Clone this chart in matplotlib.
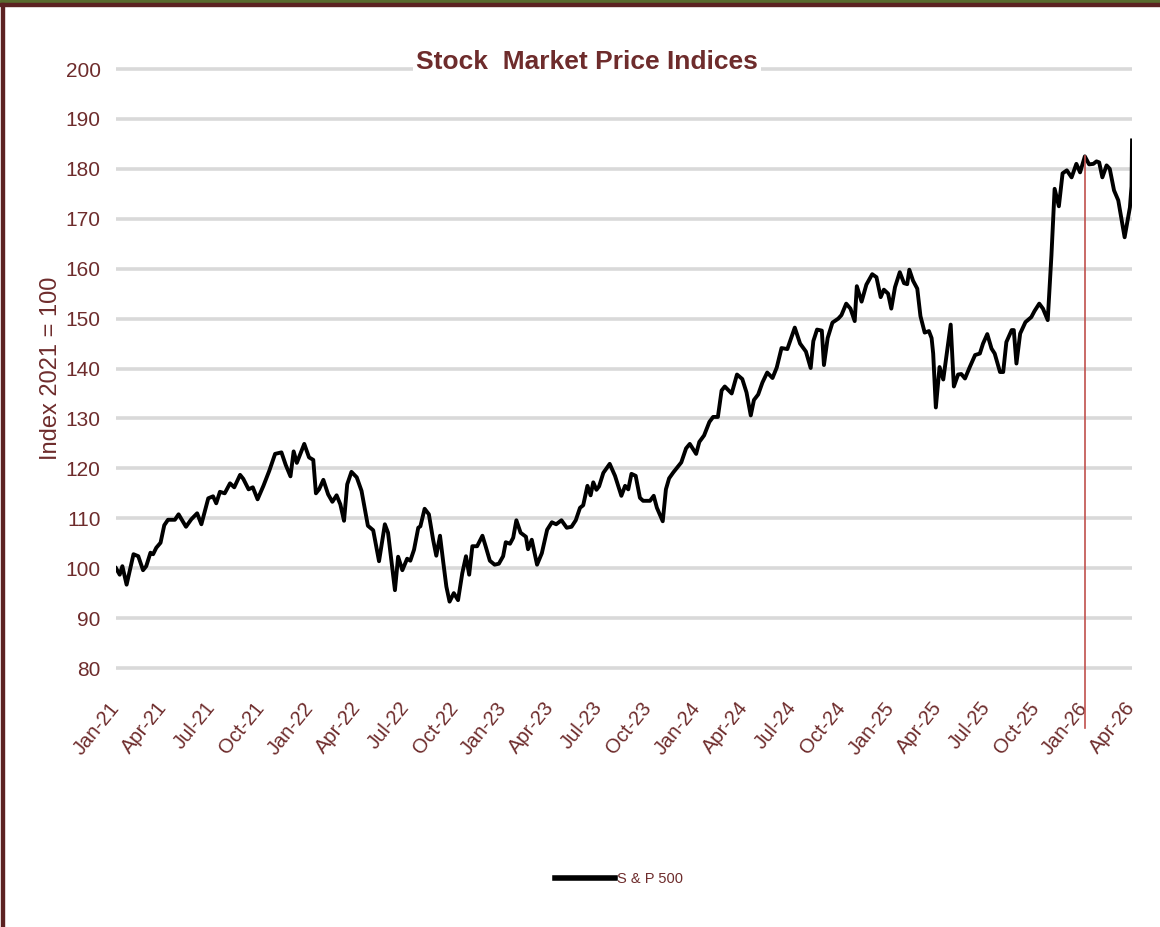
import matplotlib
matplotlib.use("Agg")
import matplotlib.pyplot as plt
import matplotlib.dates as mdates
import pandas as pd
from matplotlib.patches import Rectangle

# S&P 500, index 2021 = 100
sp_dates = [
    "2021-01-01", "2021-01-08", "2021-01-13", "2021-01-21", "2021-02-03", "2021-02-12",
    "2021-02-21", "2021-02-27", "2021-03-07", "2021-03-12", "2021-03-18", "2021-03-26",
    "2021-04-02", "2021-04-09", "2021-04-22", "2021-04-29", "2021-05-13", "2021-05-23",
    "2021-06-03", "2021-06-11", "2021-06-24", "2021-07-03", "2021-07-09", "2021-07-16",
    "2021-07-25", "2021-08-04", "2021-08-12", "2021-08-23", "2021-08-29", "2021-09-08",
    "2021-09-16", "2021-09-25", "2021-10-06", "2021-10-17", "2021-10-28", "2021-11-09",
    "2021-11-17", "2021-11-26", "2021-12-02", "2021-12-08", "2021-12-22", "2021-12-31",
    "2022-01-08", "2022-01-13", "2022-01-19", "2022-01-27", "2022-02-05", "2022-02-13",
    "2022-02-21", "2022-02-28", "2022-03-07", "2022-03-13", "2022-03-21", "2022-03-31",
    "2022-04-09", "2022-04-21", "2022-05-01", "2022-05-12", "2022-05-23", "2022-05-29",
    "2022-06-11", "2022-06-17", "2022-06-25", "2022-07-04", "2022-07-10", "2022-07-17",
    "2022-07-25", "2022-07-29", "2022-08-06", "2022-08-14", "2022-08-22", "2022-08-28",
    "2022-09-04", "2022-09-10", "2022-09-16", "2022-09-22", "2022-09-30", "2022-10-08",
    "2022-10-16", "2022-10-23", "2022-10-29", "2022-11-04", "2022-11-13", "2022-11-23",
    "2022-11-29", "2022-12-07", "2022-12-16", "2022-12-24", "2023-01-01", "2023-01-06",
    "2023-01-14", "2023-01-20", "2023-01-26", "2023-02-03", "2023-02-13", "2023-02-17",
    "2023-02-24", "2023-03-06", "2023-03-15", "2023-03-25", "2023-04-03", "2023-04-11",
    "2023-04-21", "2023-05-01", "2023-05-10", "2023-05-18", "2023-05-26", "2023-06-01",
    "2023-06-09", "2023-06-15", "2023-06-20", "2023-06-26", "2023-07-01", "2023-07-09",
    "2023-07-21", "2023-07-31", "2023-08-12", "2023-08-19", "2023-08-25", "2023-08-31",
    "2023-09-08", "2023-09-16", "2023-09-22", "2023-10-05", "2023-10-12", "2023-10-18",
    "2023-10-29", "2023-11-04", "2023-11-10", "2023-11-18", "2023-11-27", "2023-12-03",
    "2023-12-12", "2023-12-19", "2023-12-31", "2024-01-06", "2024-01-15", "2024-01-25",
    "2024-02-01", "2024-02-10", "2024-02-17", "2024-02-23", "2024-03-07", "2024-03-17",
    "2024-03-27", "2024-04-04", "2024-04-12", "2024-04-18", "2024-04-26", "2024-05-04",
    "2024-05-13", "2024-05-23", "2024-05-31", "2024-06-09", "2024-06-20", "2024-07-04",
    "2024-07-14", "2024-07-25", "2024-08-03", "2024-08-08", "2024-08-15", "2024-08-24",
    "2024-08-28", "2024-09-04", "2024-09-13", "2024-09-24", "2024-09-30", "2024-10-09",
    "2024-10-17", "2024-10-25", "2024-10-29", "2024-11-07", "2024-11-16", "2024-11-27",
    "2024-12-05", "2024-12-13", "2024-12-19", "2024-12-27", "2025-01-02", "2025-01-09",
    "2025-01-18", "2025-01-26", "2025-02-01", "2025-02-05", "2025-02-12", "2025-02-20",
    "2025-02-26", "2025-03-06", "2025-03-14", "2025-03-19", "2025-03-22", "2025-03-27",
    "2025-04-03", "2025-04-10", "2025-04-24", "2025-04-30", "2025-05-08", "2025-05-14",
    "2025-05-21", "2025-05-30", "2025-06-09", "2025-06-18", "2025-06-24", "2025-07-02",
    "2025-07-10", "2025-07-16", "2025-07-26", "2025-08-01", "2025-08-07", "2025-08-17",
    "2025-08-21", "2025-08-26", "2025-09-02", "2025-09-12", "2025-09-23", "2025-09-29",
    "2025-10-08", "2025-10-15", "2025-10-24", "2025-10-31", "2025-11-06", "2025-11-14",
    "2025-11-21", "2025-11-29", "2025-12-08", "2025-12-17", "2025-12-24", "2026-01-02",
    "2026-01-10", "2026-01-18", "2026-01-24", "2026-01-29", "2026-02-04", "2026-02-12",
    "2026-02-18", "2026-02-26", "2026-03-06", "2026-03-18", "2026-03-28", "2026-03-31",
    "2026-04-01",
]
sp_values = [
    100.0, 98.7, 100.4, 96.7, 102.8, 102.4, 99.6, 100.4, 103.1, 102.8, 104.1, 105.1,
    108.6, 109.7, 109.7, 110.8, 108.3, 109.8, 111.0, 108.8, 114.0, 114.4, 113.0, 115.3,
    115.0, 117.0, 116.2, 118.7, 117.9, 115.8, 116.2, 113.8, 116.5, 119.5, 122.9, 123.2,
    120.7, 118.4, 123.4, 121.1, 124.9, 122.2, 121.7, 115.0, 115.8, 117.7, 114.8, 113.3,
    114.6, 112.8, 109.5, 116.8, 119.3, 118.2, 115.5, 108.5, 107.6, 101.4, 108.8, 107.1,
    95.6, 102.3, 99.6, 101.9, 101.5, 103.7, 108.1, 108.4, 111.9, 110.8, 105.7, 102.5,
    106.5, 101.3, 96.3, 93.3, 95.0, 93.6, 99.0, 102.4, 98.7, 104.4, 104.4, 106.5,
    104.4, 101.5, 100.7, 100.9, 102.4, 105.2, 104.9, 106.1, 109.6, 107.1, 106.3, 103.8,
    105.7, 100.7, 103.0, 107.7, 109.2, 108.8, 109.6, 108.1, 108.3, 109.6, 112.1, 112.6,
    116.5, 114.6, 117.2, 115.7, 116.4, 119.1, 120.9, 118.5, 114.5, 116.5, 115.8, 118.9,
    118.5, 114.1, 113.5, 113.5, 114.5, 112.1, 109.4, 115.8, 118.0, 119.2, 120.4, 121.2,
    124.0, 124.9, 122.9, 125.3, 126.6, 129.3, 130.3, 130.3, 135.6, 136.4, 135.0, 138.8,
    137.9, 135.2, 130.6, 133.7, 134.8, 137.2, 139.2, 138.1, 140.2, 144.1, 143.9, 148.2,
    145.0, 143.4, 140.1, 145.5, 147.8, 147.6, 140.7, 146.1, 149.2, 150.0, 150.7, 153.0,
    152.0, 149.5, 156.5, 153.4, 156.8, 158.9, 158.3, 154.3, 155.8, 155.0, 152.0, 156.3,
    159.3, 157.1, 156.9, 159.8, 157.6, 156.0, 150.5, 147.2, 147.5, 146.1, 143.0, 132.2,
    140.3, 137.8, 148.8, 136.4, 138.8, 138.9, 138.0, 140.3, 142.7, 143.0, 145.0, 146.9,
    144.0, 143.0, 139.3, 139.3, 145.3, 147.7, 147.7, 141.0, 147.0, 149.3, 150.3, 151.5,
    153.0, 152.0, 149.7, 162.7, 176.0, 172.5, 179.1, 179.7, 178.3, 181.0, 179.3, 182.5,
    180.9, 181.0, 181.5, 181.3, 178.3, 180.7, 180.0, 175.7, 173.7, 166.3, 172.3, 176.5,
    185.7,
]
series_name = "S & P 500"
marker_date = "2026-01-02"
marker_top = 182.5

TEXT = "#6E2C2C"
BROWN = "#5C2222"
GREEN = "#586B2E"
FONT = ["Liberation Sans", "DejaVu Sans"]

fig = plt.figure(figsize=(11.6, 9.27), dpi=100)
ax = fig.add_axes([0.1, 0.2686, 0.8759, 0.6677])

dates = pd.to_datetime(sp_dates)
ax.plot(dates, sp_values, color="black", lw=2.8, solid_joinstyle="round",
        label=series_name, zorder=3)

# vertical marker at the start of the latest year
md = pd.Timestamp(marker_date)
ax.plot([md, md], [68, marker_top], color="#C0504D", lw=1.2, clip_on=False, zorder=4)

ax.set_xlim(pd.Timestamp("2021-01-01"), pd.Timestamp("2026-04-01"))
ax.set_ylim(78, 202)
ax.set_yticks(range(80, 201, 10))
ax.yaxis.grid(True, color="#D9D9D9", lw=2.6)
ax.set_axisbelow(True)
for s in ax.spines.values():
    s.set_visible(False)

ax.xaxis.set_major_locator(mdates.MonthLocator(bymonth=[1, 4, 7, 10]))
ax.xaxis.set_major_formatter(mdates.DateFormatter("%b-%y"))
ax.tick_params(axis="both", length=0, colors=TEXT)
ax.tick_params(axis="y", pad=11)
ax.tick_params(axis="x", pad=19)
for lab in ax.get_yticklabels():
    lab.set_family(FONT)
    lab.set_fontsize(15)
for lab in ax.get_xticklabels():
    lab.set_family(FONT)
    lab.set_fontsize(14.5)
    lab.set_rotation(51)
    lab.set_ha("right")
    lab.set_va("center")
    lab.set_rotation_mode("anchor")

ax.set_ylabel("Index 2021 = 100", color=TEXT, fontsize=17, family=FONT)
ax.yaxis.set_label_coords(-0.053, 0.5)

fig.text(0.506, 0.933, "Stock  Market Price Indices", ha="center", va="center",
         fontsize=19, fontweight="bold", color=TEXT, family=FONT,
         bbox=dict(facecolor="white", edgecolor="none", pad=2))

leg = ax.legend(loc="center", bbox_to_anchor=(0.534, 0.052), bbox_transform=fig.transFigure,
                frameon=False, handlelength=4.1, handletextpad=0.15,
                prop={"family": FONT, "size": 10.5})
for t in leg.get_texts():
    t.set_color(TEXT)
for h in leg.get_lines():
    h.set_linewidth(4)

# frame edges
fig.patches.append(Rectangle((0, 1 - 3 / 927), 1, 3 / 927, transform=fig.transFigure,
                             color=GREEN, zorder=10))
fig.patches.append(Rectangle((0, 1 - 6 / 927), 1, 3 / 927, transform=fig.transFigure,
                             color=BROWN, zorder=10))
fig.patches.append(Rectangle((1 / 1160, 0), 3 / 1160, 1 - 3 / 927, transform=fig.transFigure,
                             color=BROWN, zorder=10))

fig.savefig("out.png", dpi=100)
